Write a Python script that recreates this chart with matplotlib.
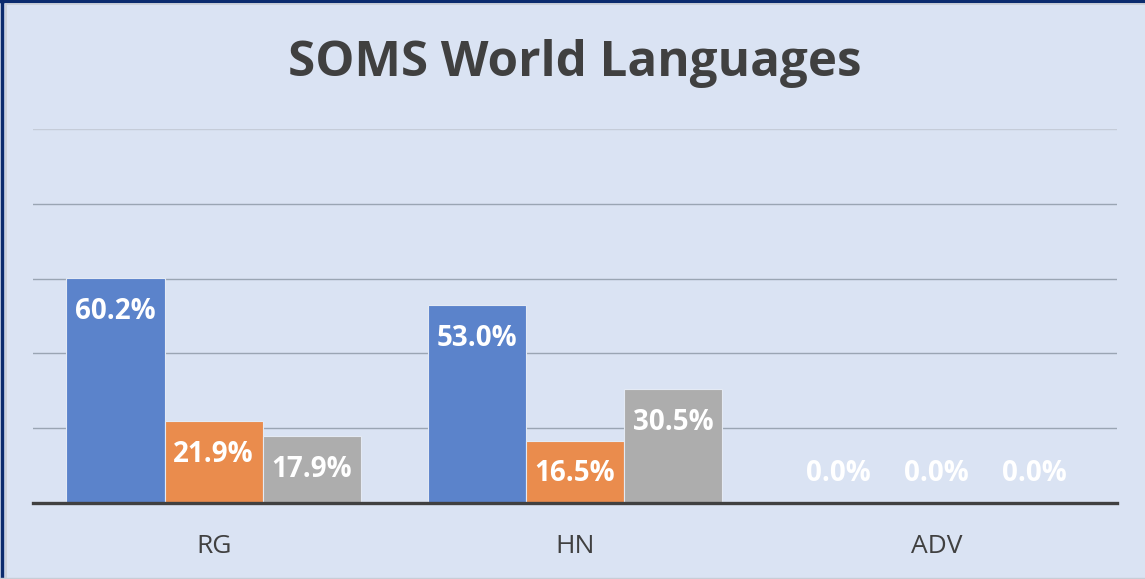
import numpy as np
import matplotlib
matplotlib.use("Agg")
import matplotlib.pyplot as plt
from matplotlib.lines import Line2D

# Chart data
categories = ["RG", "HN", "ADV"]
series_names = ["Series 1", "Series 2", "Series 3"]
series_values = [
    [60.2, 53.0, 0.0],
    [21.9, 16.5, 0.0],
    [17.9, 30.5, 0.0],
]
series_colors = ["#5B83CB", "#EA8C4D", "#ADADAD"]

bg = "#DAE3F3"
plt.rcParams["font.family"] = ["Open Sans", "DejaVu Sans"]

fig = plt.figure(figsize=(11.45, 5.79), dpi=100, facecolor=bg)
ax = fig.add_axes([33 / 1145, 1 - 503 / 579, 1084 / 1145, 374 / 579])
ax.set_facecolor(bg)

x = np.arange(len(categories))
width = 0.272
offsets = [-width, 0, width]

for vals, color, off, name in zip(series_values, series_colors, offsets, series_names):
    ax.bar(x + off, vals, width=width, color=color, edgecolor="#E4EAF4",
           linewidth=0.8, label=name, zorder=3)
    # Data labels, inside end, kept above the baseline
    for xi, v in zip(x, vals):
        ax.text(xi + off, max(v - 8.9, 8.0), f"{v:.1f}%", ha="center", va="center",
                color="white", fontsize=20, fontweight="bold", zorder=4)

ax.set_xlim(-0.5, len(categories) - 0.5)
ax.set_ylim(0, 100)
ax.set_yticks([20, 40, 60, 80, 100])
ax.yaxis.grid(True, color="#9AA5B3", linewidth=1.0, zorder=0)
ax.get_ygridlines()[-1].set_color("#C5CCD8")
ax.tick_params(axis="y", left=False, labelleft=False)
ax.set_xticks(x)
ax.set_xticklabels(categories, fontsize=19, color="#404040")
ax.tick_params(axis="x", length=0, pad=22)

for side in ["top", "right", "left"]:
    ax.spines[side].set_visible(False)
ax.spines["bottom"].set_color("#404040")
ax.spines["bottom"].set_linewidth(2.4)
ax.spines["bottom"].set_zorder(5)

fig.text(575 / 1145, 1 - 64 / 579, "SOMS World Languages", ha="center", va="center",
         fontsize=35.5, fontweight="bold", color="#404040")

# Frame: dark navy on top and left, thin gray just inside
fig.add_artist(Line2D([0, 1], [0.9975, 0.9975], transform=fig.transFigure, color="#0B2B6E", linewidth=2.5))
fig.add_artist(Line2D([0.0015, 0.0015], [0, 1], transform=fig.transFigure, color="#0B2B6E", linewidth=2.5))
fig.add_artist(Line2D([0.005, 1], [0.9925, 0.9925], transform=fig.transFigure, color="#C8CDD6", linewidth=1.2))
fig.add_artist(Line2D([0.005, 0.005], [0, 0.993], transform=fig.transFigure, color="#C8CDD6", linewidth=1.2))
fig.add_artist(Line2D([0, 1], [0.001, 0.001], transform=fig.transFigure, color="#C8CDD6", linewidth=1.0))

fig.savefig("out.png", dpi=100, facecolor=bg)
